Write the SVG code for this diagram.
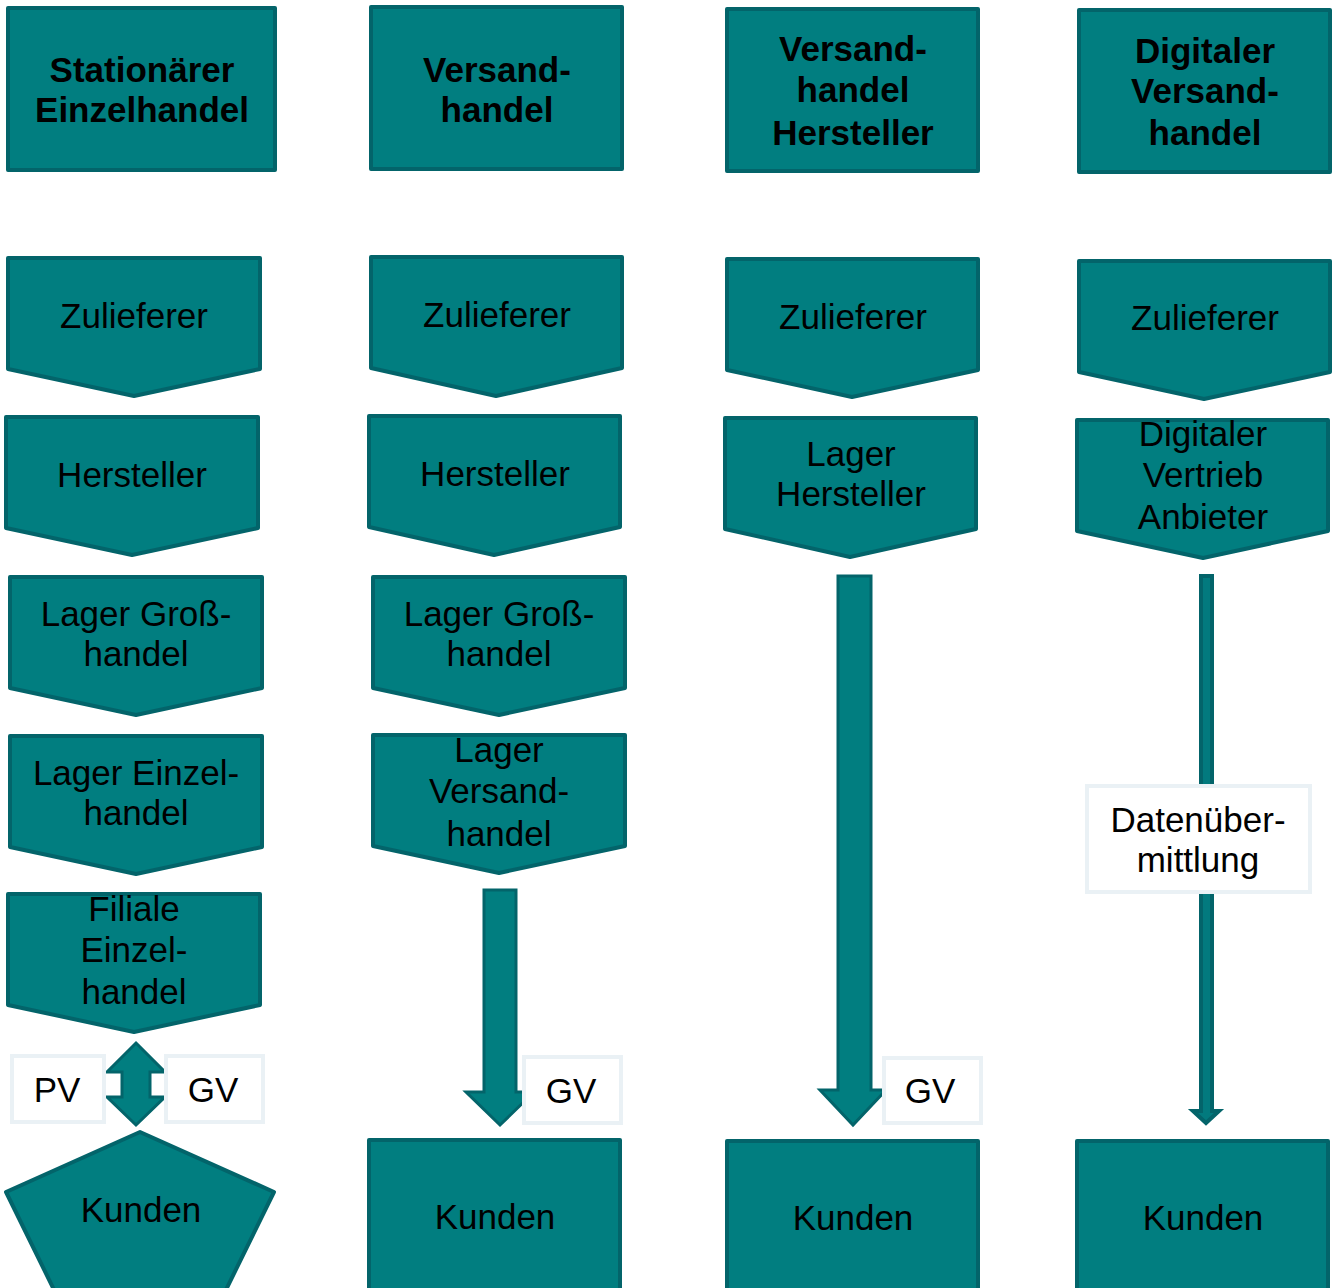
<svg xmlns="http://www.w3.org/2000/svg" width="1333" height="1288" viewBox="0 0 1333 1288">
<style>
.n{fill:#017E80;stroke:#03646A;stroke-width:4;stroke-linejoin:round}
.lb{fill:#fff;stroke:#EAF1F5;stroke-width:4}
.a{fill:#017E80;stroke:#03646A;stroke-width:3;stroke-linejoin:miter}
.t{fill:#027A7E;stroke:#03646A;stroke-width:4;stroke-linejoin:miter}
text{font-family:"Liberation Sans",Arial,sans-serif;font-size:35px;fill:#000;text-anchor:middle}
.b{font-weight:bold}
</style>
<rect width="1333" height="1288" fill="#fff"/>
<g id="connectors">
<polygon class="a" points="136,1043 165,1072 150,1072 150,1097 165,1097 136,1125 107,1097 122,1097 122,1072 107,1072"/>
<polygon class="a" points="484,890 516,890 516,1092 534,1092 500,1125 466,1092 484,1092"/>
<polygon class="a" points="838,576 871,576 871,1090 886,1090 853,1125 820,1090 838,1090"/>
<polygon class="t" points="1201,576 1212,576 1212,1111 1219,1111 1206,1123 1193,1111 1201,1111"/>
</g>
<g id="h1"><rect class="n" x="8" y="8" width="267" height="162"/><text class="b" x="142" y="82">Stationärer</text><text class="b" x="142" y="122">Einzelhandel</text></g>
<g id="h2"><rect class="n" x="371" y="7" width="251" height="162"/><text class="b" x="497" y="82">Versand-</text><text class="b" x="497" y="122">handel</text></g>
<g id="h3"><rect class="n" x="727" y="9" width="251" height="162"/><text class="b" x="853" y="61">Versand-</text><text class="b" x="853" y="102">handel</text><text class="b" x="853" y="145">Hersteller</text></g>
<g id="h4"><rect class="n" x="1079" y="10" width="251" height="162"/><text class="b" x="1205" y="63">Digitaler</text><text class="b" x="1205" y="103">Versand-</text><text class="b" x="1205" y="145">handel</text></g>

<g id="c1z"><polygon class="n" points="8,258 260,258 260,369 134,396 8,369"/><text x="134" y="328">Zulieferer</text></g>
<g id="c1h"><polygon class="n" points="6,417 258,417 258,528 132,555 6,528"/><text x="132" y="487">Hersteller</text></g>
<g id="c1g"><polygon class="n" points="10,577 262,577 262,688 136,715 10,688"/><text x="136" y="626">Lager Groß-</text><text x="136" y="666">handel</text></g>
<g id="c1e"><polygon class="n" points="10,736 262,736 262,847 136,874 10,847"/><text x="136" y="785">Lager Einzel-</text><text x="136" y="825">handel</text></g>
<g id="c1f"><polygon class="n" points="8,894 260,894 260,1005 134,1032 8,1005"/><text x="134" y="921">Filiale</text><text x="134" y="962">Einzel-</text><text x="134" y="1004">handel</text></g>
<g id="c1pv"><rect class="lb" x="12" y="1056" width="92" height="66"/><text x="57" y="1102">PV</text></g>
<g id="c1gv"><rect class="lb" x="166" y="1056" width="97" height="66"/><text x="213" y="1102">GV</text></g>
<g id="c1k"><polygon class="n" points="140,1132 274,1192 221,1300 59,1300 6,1192"/><text x="141" y="1222">Kunden</text></g>

<g id="c2z"><polygon class="n" points="371,257 622,257 622,368 496,396 371,368"/><text x="497" y="327">Zulieferer</text></g>
<g id="c2h"><polygon class="n" points="369,416 620,416 620,527 494,555 369,527"/><text x="495" y="486">Hersteller</text></g>
<g id="c2g"><polygon class="n" points="373,577 625,577 625,688 499,715 373,688"/><text x="499" y="626">Lager Groß-</text><text x="499" y="666">handel</text></g>
<g id="c2v"><polygon class="n" points="373,735 625,735 625,846 499,873 373,846"/><text x="499" y="762">Lager</text><text x="499" y="803">Versand-</text><text x="499" y="846">handel</text></g>
<g id="c2gv"><rect class="lb" x="524" y="1057" width="97" height="66"/><text x="571" y="1103">GV</text></g>
<g id="c2k"><rect class="n" x="369" y="1140" width="251" height="160"/><text x="495" y="1229">Kunden</text></g>

<g id="c3z"><polygon class="n" points="727,259 978,259 978,370 852,397 727,370"/><text x="853" y="329">Zulieferer</text></g>
<g id="c3l"><polygon class="n" points="725,418 976,418 976,529 850,557 725,529"/><text x="851" y="466">Lager</text><text x="851" y="506">Hersteller</text></g>
<g id="c3gv"><rect class="lb" x="884" y="1058" width="97" height="65"/><text x="930" y="1103">GV</text></g>
<g id="c3k"><rect class="n" x="727" y="1141" width="251" height="160"/><text x="853" y="1230">Kunden</text></g>

<g id="c4z"><polygon class="n" points="1079,261 1330,261 1330,372 1204,399 1079,372"/><text x="1205" y="330">Zulieferer</text></g>
<g id="c4d"><polygon class="n" points="1077,420 1328,420 1328,531 1203,558 1077,531"/><text x="1203" y="446">Digitaler</text><text x="1203" y="487">Vertrieb</text><text x="1203" y="529">Anbieter</text></g>
<g id="c4t"><rect class="lb" x="1087" y="786" width="223" height="106"/><text x="1198" y="832">Datenüber-</text><text x="1198" y="872">mittlung</text></g>
<g id="c4k"><rect class="n" x="1077" y="1141" width="251" height="160"/><text x="1203" y="1230">Kunden</text></g>
</svg>
